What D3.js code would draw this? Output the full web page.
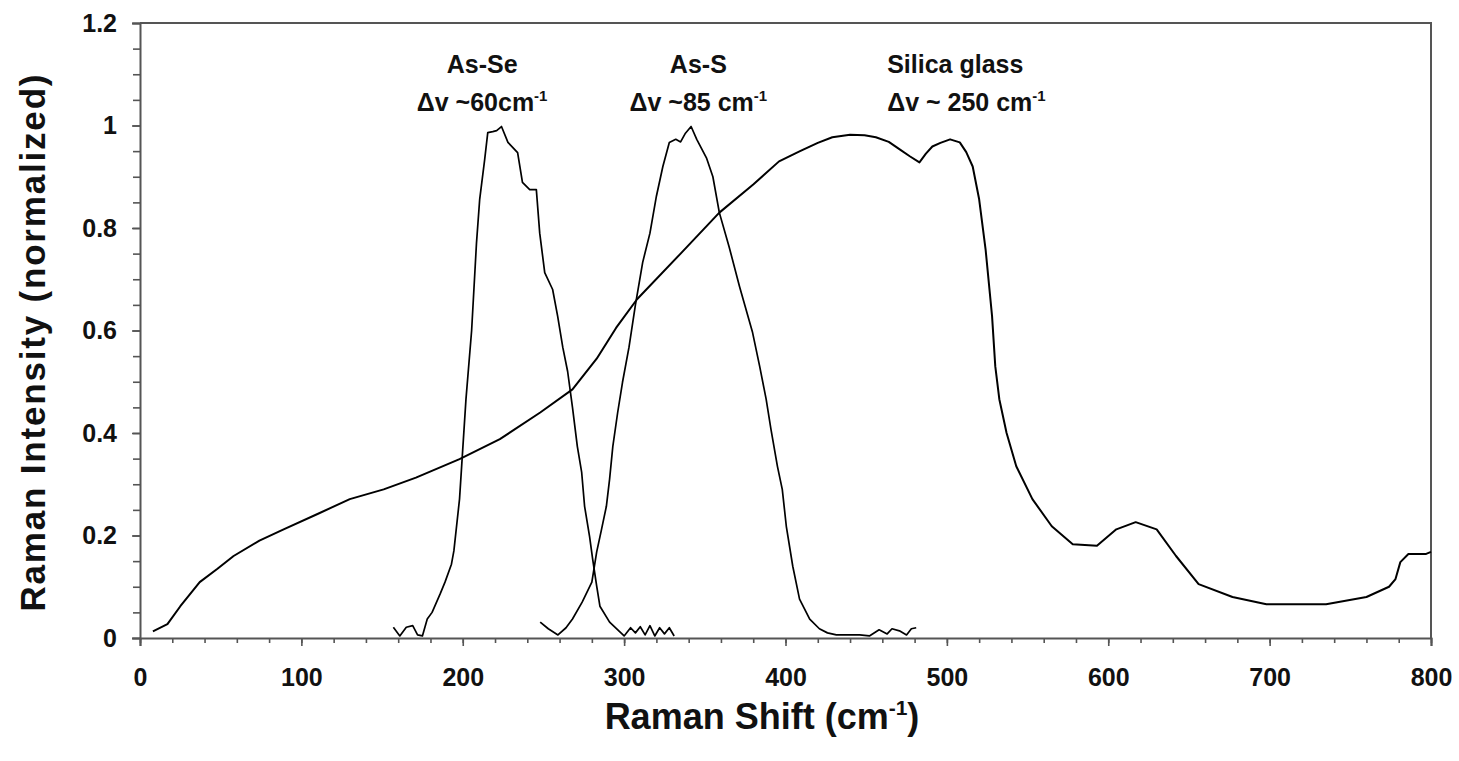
<!DOCTYPE html>
<html><head><meta charset="utf-8">
<script src="https://cdn.jsdelivr.net/npm/d3@7/dist/d3.min.js"></script>
<style>
html,body{margin:0;padding:0;background:#fff;}
svg{display:block;font-family:"Liberation Sans",Arial,Helvetica,sans-serif;font-weight:bold;}
</style></head><body>
<svg id="chart" width="1459" height="761"></svg>
<script>
// ---- data ----
const silicaShift = [8,17,25,37,48,58,74,89,110,130,151,171,198,223,248,268,273,283,295,308,335,359,380,396,409,420,429,440,449,456,464,471,477,483,487,491,496,502,508,512,516,520,524,528,530,532.5,537,543,553,565,578,593,605,617,630,642,656,677,698,735,760,774,778,781,786,797,800];
const silicaIntensity = [0.013,0.027,0.062,0.109,0.135,0.16,0.19,0.212,0.242,0.271,0.29,0.313,0.349,0.388,0.44,0.485,0.505,0.545,0.605,0.661,0.75,0.83,0.885,0.93,0.95,0.966,0.977,0.982,0.981,0.977,0.968,0.953,0.94,0.928,0.945,0.959,0.966,0.973,0.967,0.948,0.92,0.856,0.758,0.628,0.53,0.466,0.40,0.335,0.271,0.218,0.183,0.18,0.212,0.226,0.212,0.16,0.105,0.08,0.066,0.066,0.08,0.1,0.115,0.148,0.164,0.164,0.168];

const asSeShift = [157,161,165,169,172,175,178,181,186,189,193,194.5,198,202,205.5,208.5,210.5,213.6,215.5,218.6,221,224,228,234,237,241.5,245.6,247.7,250.8,255.7,258.8,262,265,268,271,273.7,275.5,278.6,280.5,283,285,291,300,304,307,310,313,316,319,322,325,328,331];
const asSeIntensity = [0.021,0.004,0.021,0.024,0.006,0.004,0.037,0.05,0.086,0.109,0.144,0.17,0.271,0.466,0.6,0.77,0.856,0.934,0.986,0.988,0.99,0.998,0.967,0.947,0.889,0.875,0.875,0.79,0.713,0.68,0.628,0.567,0.52,0.45,0.374,0.323,0.257,0.198,0.154,0.101,0.062,0.031,0.004,0.02,0.01,0.022,0.006,0.024,0.004,0.02,0.008,0.02,0.004];

const asSShift = [248,253,259,264,268,274,280,283,286,289,291,293,296,299,303,307,311.5,316,320,324,328,332,335,338,341.5,345,351,355,359,365,371.5,379.6,384,388,391,395,398,400.5,404.5,408.7,415,421,426,431.5,446,452,458,463,466,470.6,475,478,481];
const asSIntensity = [0.031,0.018,0.006,0.02,0.037,0.07,0.109,0.168,0.212,0.257,0.31,0.374,0.44,0.499,0.567,0.65,0.733,0.79,0.862,0.92,0.967,0.973,0.968,0.985,0.998,0.973,0.937,0.9,0.83,0.764,0.686,0.596,0.53,0.466,0.407,0.335,0.29,0.218,0.14,0.076,0.037,0.018,0.01,0.006,0.006,0.004,0.016,0.008,0.018,0.014,0.006,0.018,0.02];

const xTickValues = [0,100,200,300,400,500,600,700,800];
const xTickLabels = ["0","100","200","300","400","500","600","700","800"];
const yTickValues = [0,0.2,0.4,0.6,0.8,1,1.2];
const yTickLabels = ["0","0.2","0.4","0.6","0.8","1","1.2"];

const peakNames = ["As-Se","As-S","Silica glass"];
const peakWidths = ["\u0394v ~60cm","\u0394v ~85 cm","\u0394v ~ 250 cm"];
const peakLabelShift = [212,346,463];   // x position (cm-1) of each note
const peakLabelAnchor = ["middle","middle","start"];

const xTitle = "Raman Shift (cm";
const yTitle = "Raman Intensity (normalized)";

// ---- drawing ----
const svg = d3.select("#chart");
const x = d3.scaleLinear().domain([0,800]).range([140,1431]);
const y = d3.scaleLinear().domain([0,1.2]).range([638,23]);
const axisColor = "#555";

// frame (top and right)
svg.append("path")
  .attr("d", `M${x(0)},${y(1.2)}H${x(800)}V${y(0)}`)
  .attr("fill","none").attr("stroke",axisColor).attr("stroke-width",2);

// minor ticks
const gxm = svg.append("g").attr("transform",`translate(0,${y(0)})`)
  .call(d3.axisBottom(x).ticks(40).tickSize(5).tickFormat(""));
const gym = svg.append("g").attr("transform",`translate(${x(0)},0)`)
  .call(d3.axisLeft(y).ticks(24).tickSize(7).tickFormat(""));

// major axes
const gx = svg.append("g").attr("transform",`translate(0,${y(0)})`)
  .call(d3.axisBottom(x).tickValues(xTickValues).tickSize(8).tickPadding(22)
    .tickFormat((d,i)=>xTickLabels[i]));
const gy = svg.append("g").attr("transform",`translate(${x(0)},0)`)
  .call(d3.axisLeft(y).tickValues(yTickValues).tickSize(8).tickPadding(15)
    .tickFormat((d,i)=>yTickLabels[i]));

[gxm,gym].forEach(g=>g.select(".domain").remove());
[gx,gy].forEach(g=>{
  g.select(".domain").attr("stroke",axisColor).attr("stroke-width",2);
  g.selectAll(".tick text").attr("font-family","'Liberation Sans',Arial,sans-serif")
    .attr("font-weight","bold").attr("font-size",25).attr("fill","#111");
});
svg.selectAll(".tick line").attr("stroke",axisColor).attr("stroke-width",1.6);

// curves
const line = d3.line().x(d=>x(d[0])).y(d=>y(d[1]));
function draw(xs, ys, w){
  svg.append("path").datum(xs.map((v,i)=>[v,ys[i]]))
    .attr("d",line).attr("fill","none").attr("stroke","#000")
    .attr("stroke-width",w).attr("stroke-linejoin","round");
}
draw(silicaShift, silicaIntensity, 2);
draw(asSeShift, asSeIntensity, 1.7);
draw(asSShift, asSIntensity, 1.7);

// peak notes
peakNames.forEach((n,i)=>{
  const px = x(peakLabelShift[i]);
  svg.append("text").attr("x",px).attr("y",73).attr("text-anchor",peakLabelAnchor[i])
    .attr("font-size",25).attr("fill","#111").text(n);
  const t = svg.append("text").attr("x",px).attr("y",111).attr("text-anchor",peakLabelAnchor[i])
    .attr("font-size",25).attr("fill","#111");
  t.append("tspan").text(peakWidths[i]);
  t.append("tspan").attr("dy",-10).attr("font-size",15).text("-1");
});

// axis titles
const xt = svg.append("text").attr("x",762).attr("y",729).attr("text-anchor","middle")
  .attr("font-size",36).attr("fill","#111");
xt.append("tspan").text(xTitle);
xt.append("tspan").attr("dy",-14).attr("font-size",21).text("-1");
xt.append("tspan").attr("dy",14).text(")");

svg.append("text").attr("transform","translate(45,343) rotate(-90)")
  .attr("text-anchor","middle").attr("font-size",35).attr("fill","#111")
  .attr("textLength",537).attr("lengthAdjust","spacing").text(yTitle);
</script>
</body></html>
